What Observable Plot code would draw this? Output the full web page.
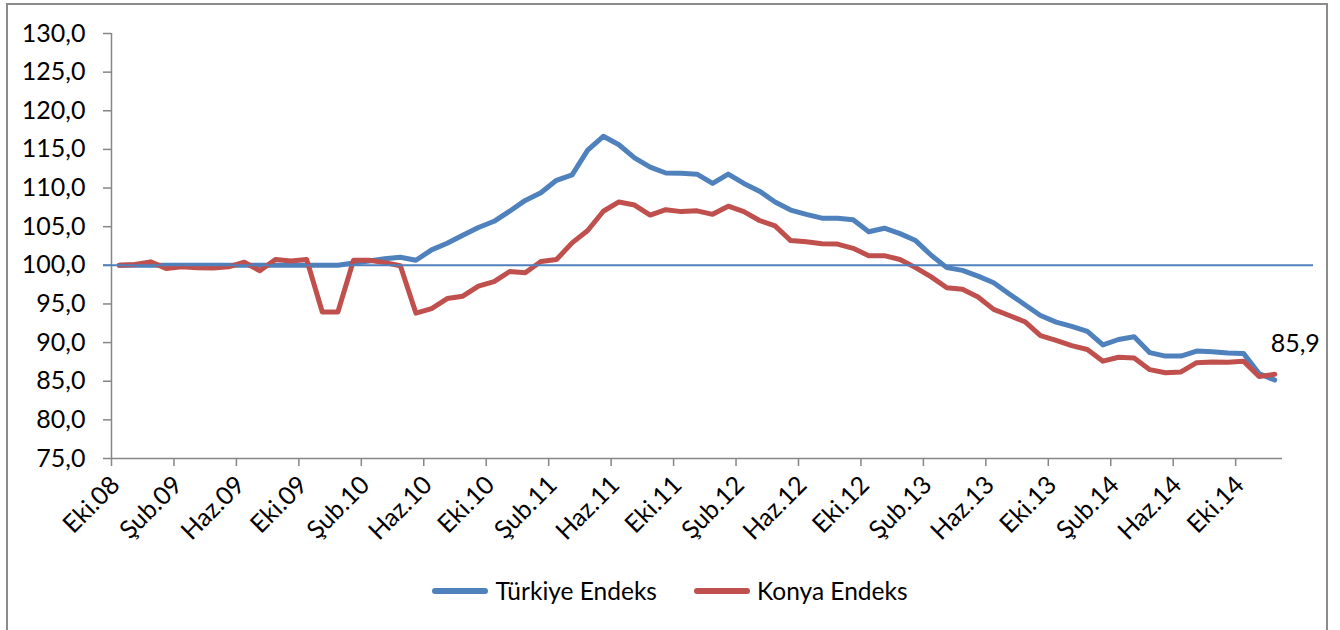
<!DOCTYPE html>
<html><head><meta charset="utf-8">
<script src="https://cdn.jsdelivr.net/npm/d3@7"></script>
<script src="https://cdn.jsdelivr.net/npm/@observablehq/plot@0.6"></script>
<style>
html,body{margin:0;padding:0;background:#fff;width:1340px;height:630px;overflow:hidden;font-family:Lato,sans-serif;}
#frame{position:absolute;left:6px;top:3px;width:1322px;height:700px;border:2px solid #8c8c8c;box-sizing:border-box;}
#chart{position:absolute;left:0;top:0;}
#legend{position:absolute;left:0;top:577px;width:1340px;display:flex;justify-content:center;align-items:center;gap:37px;font-size:24.5px;color:#000;line-height:28px;}
.item{display:flex;align-items:center;gap:7px}
.sw{width:56px;height:6px;border-radius:3px}
</style></head><body>
<div id="frame"></div><div id="chart"></div><div id="legend"></div>
<script>
const categories = [
  "Eki.08","Kas.08","Ara.08",
  "Oca.09","Şub.09","Mar.09","Nis.09","May.09","Haz.09","Tem.09","Ağu.09","Eyl.09","Eki.09","Kas.09","Ara.09",
  "Oca.10","Şub.10","Mar.10","Nis.10","May.10","Haz.10","Tem.10","Ağu.10","Eyl.10","Eki.10","Kas.10","Ara.10",
  "Oca.11","Şub.11","Mar.11","Nis.11","May.11","Haz.11","Tem.11","Ağu.11","Eyl.11","Eki.11","Kas.11","Ara.11",
  "Oca.12","Şub.12","Mar.12","Nis.12","May.12","Haz.12","Tem.12","Ağu.12","Eyl.12","Eki.12","Kas.12","Ara.12",
  "Oca.13","Şub.13","Mar.13","Nis.13","May.13","Haz.13","Tem.13","Ağu.13","Eyl.13","Eki.13","Kas.13","Ara.13",
  "Oca.14","Şub.14","Mar.14","Nis.14","May.14","Haz.14","Tem.14","Ağu.14","Eyl.14","Eki.14","Kas.14","Ara.14"
];
const turkiye = [
  100.0,100.0,100.0,100.0,100.0,100.0,100.0,100.0,100.0,100.0,100.0,100.0,100.0,100.0,100.0,
  100.3,100.55,100.85,101.05,100.65,102.0,102.85,103.9,104.9,105.7,107.0,108.4,109.4,111.0,111.7,
  114.9,116.7,115.6,113.9,112.7,111.95,111.9,111.8,110.6,111.8,110.6,109.6,108.2,107.15,106.6,
  106.1,106.1,105.9,104.35,104.8,104.1,103.2,101.3,99.7,99.35,98.6,97.75,96.3,94.9,93.5,
  92.65,92.1,91.45,89.7,90.4,90.75,88.7,88.25,88.25,88.9,88.8,88.65,88.6,86.0,85.15
];
const konya = [
  100.0,100.1,100.45,99.6,99.8,99.7,99.65,99.8,100.4,99.3,100.75,100.55,100.75,93.95,93.95,
  100.65,100.65,100.35,99.95,93.8,94.4,95.7,96.0,97.3,97.9,99.2,99.05,100.5,100.75,102.9,
  104.5,107.0,108.2,107.8,106.5,107.2,106.95,107.05,106.6,107.65,106.95,105.8,105.1,103.2,103.05,
  102.8,102.75,102.2,101.25,101.25,100.75,99.7,98.5,97.1,96.9,95.9,94.3,93.5,92.7,90.9,
  90.3,89.6,89.1,87.6,88.1,88.0,86.5,86.1,86.2,87.4,87.5,87.45,87.6,85.6,85.9
];
const tickLabels = ["Eki.08","Şub.09","Haz.09","Eki.09","Şub.10","Haz.10","Eki.10","Şub.11","Haz.11","Eki.11",
  "Şub.12","Haz.12","Eki.12","Şub.13","Haz.13","Eki.13","Şub.14","Haz.14","Eki.14"];
const yTicks = [75,80,85,90,95,100,105,110,115,120,125,130];
const reference = 100;
const seriesNames = ["Türkiye Endeks","Konya Endeks"];
const colors = ["#4F81BD","#C0504D"];

const fmt = d => d.toFixed(1).replace(".", ",");
const tickIdx = tickLabels.map(l => categories.indexOf(l));
const axisGray = "#868686";
const last = konya.length - 1;

const chart = Plot.plot({
  width: 1340, height: 540,
  marginLeft: 111, marginRight: 58, marginTop: 33, marginBottom: 82,
  style: {fontFamily: "Lato, sans-serif", background: "transparent", overflow: "visible", color: "#000"},
  x: {type: "linear", domain: [-0.5, categories.length - 0.5], axis: null},
  y: {domain: [75, 130], axis: null},
  marks: [
    Plot.axisY({ticks: yTicks, tickSize: 8, tickPadding: 18, tickFormat: fmt, fontSize: 25,
      stroke: axisGray, strokeWidth: 1.5, fill: "#000", label: null}),
    Plot.axisX({ticks: tickIdx.map(i => i - 0.5), tickSize: 8, tickFormat: () => "",
      stroke: axisGray, strokeWidth: 1.5, label: null}),
    Plot.ruleX([-0.5], {stroke: axisGray, strokeWidth: 1.5}),
    Plot.ruleY([75], {stroke: axisGray, strokeWidth: 1.5}),
    Plot.text(tickIdx, {x: d => d, frameAnchor: "bottom", text: (d, j) => tickLabels[j],
      rotate: -45, textAnchor: "end", dx: 2, dy: 28, fontSize: 25, fill: "#000"}),
    Plot.line(turkiye, {x: (d, i) => i, y: d => d, stroke: colors[0], strokeWidth: 5,
      strokeLinejoin: "round", strokeLinecap: "round"}),
    Plot.line(konya, {x: (d, i) => i, y: d => d, stroke: colors[1], strokeWidth: 5,
      strokeLinejoin: "round", strokeLinecap: "round"}),
    Plot.ruleY([reference], {stroke: colors[0], strokeWidth: 2, insetLeft: -8, insetRight: -31}),
    Plot.text([last], {x: d => d, y: d => konya[d], text: d => fmt(konya[d]),
      textAnchor: "start", dx: -4, dy: -30, fontSize: 25, fill: "#000"})
  ]
});
document.getElementById("chart").appendChild(chart);

const legend = document.getElementById("legend");
seriesNames.forEach((n, k) => {
  const item = document.createElement("div");
  item.className = "item";
  const sw = document.createElement("div");
  sw.className = "sw"; sw.style.background = colors[k];
  const t = document.createElement("span");
  t.textContent = n;
  item.appendChild(sw); item.appendChild(t);
  legend.appendChild(item);
});
</script>
</body></html>
